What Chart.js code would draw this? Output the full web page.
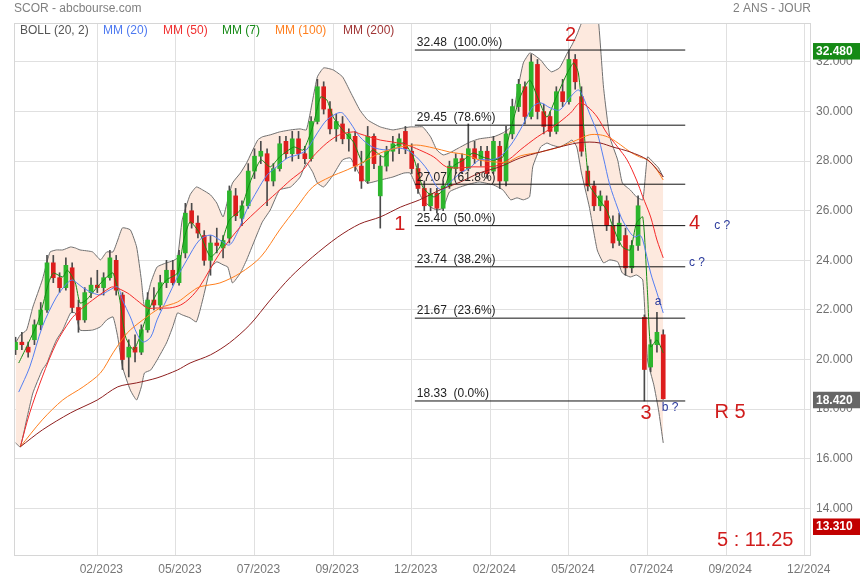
<!DOCTYPE html>
<html lang="fr">
<head>
  <meta charset="UTF-8">
  <title>SCOR - abcbourse.com</title>
  <script src="https://cdn.jsdelivr.net/npm/chart.js@4"></script>
  <style>
    html, body { margin: 0; padding: 0; background: #fff; }
    #cadre { width: 860px; height: 580px; }
  </style>
</head>
<body>
<div id="cadre"><canvas id="graphe" width="860" height="580"></canvas></div>

<script>
  // Bougies (une tous les 4 jours de bourse)
  const ouverture = [20.4,20.7,20.5,20.8,21.4,22.0,23.9,23.3,22.9,23.7, 22.1,21.6,22.7,23.0,22.9,23.3,24.0,22.6,20.1,20.5,
    20.3,21.2,22.4,22.2,23.1,23.6,23.1,24.3,26.0,25.5, 25.0,24.0,24.7,24.5,24.9,26.6,25.7,26.2,27.6,28.2,
    28.3,27.2,27.7,28.8,28.3,28.9,28.3,28.1,29.6,31.0, 30.1,29.3,29.5,28.9,29.0,27.8,27.2,29.0,26.6,27.8,
    28.4,28.6,29.2,28.4,27.7,26.9,26.2,26.7,26.1,27.0, 27.7,28.1,27.7,28.5,28.1,28.4,27.6,28.6,27.2,29.1,
    30.2,31.0,29.8,31.9,30.0,29.8,29.2,30.8,30.4,32.1, 30.6,27.6,27.0,26.2,26.4,25.4,24.8,25.0,23.7,24.6,
    21.7,19.7,20.6,21.0];
  const plusHaut = [20.9,21.1,20.7,21.6,22.3,24.2,24.2,23.5,24.1,23.9, 22.4,22.9,23.3,23.6,23.5,24.4,24.2,22.7,20.8,21.0,
    21.4,22.7,22.9,23.4,24.0,24.0,24.4,26.3,26.3,25.8, 25.2,25.0,25.3,25.0,27.0,26.9,26.4,27.9,28.5,28.8,
    28.5,27.9,29.0,29.0,29.2,29.2,28.6,29.8,31.3,31.2, 30.4,29.9,29.8,29.3,29.2,28.4,29.4,29.1,28.2,28.6,
    29.0,29.1,29.4,28.7,27.9,27.2,26.9,26.9,27.2,28.0, 28.3,28.3,29.5,28.8,28.6,28.6,29.0,28.8,29.4,30.5,
    31.3,31.2,32.3,32.1,30.3,30.0,31.0,31.3,32.48,32.3, 31.0,27.8,27.2,26.8,26.6,25.8,25.9,25.3,24.8,26.6,
    21.8,20.8,21.9,21.2];
  const plusBas = [20.2,20.4,20.1,20.6,21.2,21.9,23.1,22.7,22.8,21.9, 21.1,21.5,22.5,22.7,22.6,23.2,22.6,19.6,19.3,19.9,
    20.2,21.1,22.0,22.0,22.9,23.0,23.0,24.1,25.3,24.9, 23.8,23.4,24.3,24.1,24.7,25.6,25.4,26.1,27.3,27.9,
    26.2,27.0,27.6,28.1,28.0,28.1,27.9,28.0,29.5,29.9, 29.1,28.8,28.7,28.4,27.6,26.9,27.1,27.7,25.3,27.6,
    28.0,28.3,28.3,27.5,26.7,26.0,26.0,25.9,26.0,26.9, 27.5,27.5,27.6,27.9,27.8,27.3,27.5,26.9,27.0,28.9,
    30.0,29.5,29.7,29.7,29.1,29.0,29.1,30.2,30.3,30.9, 28.2,26.8,26.0,26.0,25.2,24.5,24.6,23.4,23.5,24.4,
    18.33,19.5,20.3,18.4];
  const cloture = [20.7,20.6,20.3,21.4,22.0,23.9,23.3,22.9,23.8,22.1, 21.6,22.7,23.0,22.9,23.3,24.1,22.8,20.0,20.5,20.3,
    21.2,22.4,22.2,23.1,23.6,23.1,24.2,25.9,25.5,25.1, 24.0,24.7,24.6,24.8,26.8,25.8,26.2,27.6,28.2,28.4,
    27.2,27.7,28.7,28.3,28.9,28.3,28.1,29.6,31.0,30.1, 29.3,29.6,28.9,29.1,27.8,27.2,29.0,27.9,27.8,28.4,
    28.7,28.9,28.5,27.7,26.9,26.2,26.7,26.1,27.0,27.8, 28.1,27.6,28.5,28.1,28.4,27.5,28.8,27.2,29.1,30.2,
    31.1,29.8,32.0,30.0,29.4,29.2,30.8,30.4,32.1,31.2, 28.4,27.0,26.2,26.6,25.4,24.7,25.5,23.7,24.6,26.2,
    19.6,20.6,21.1,18.42];

  // Bandes de Bollinger (20, 2)
  const jourBoll = [1,4,8,12,18,21,23,27,31,36,39,42,50,55,59,63,66,69,74,78,81,83,87,91,97,101,104,107,112,116,
    120,125,129,133,136,139,144,148,155,158,163,169,176,182,186,190,193,197,203,209,214,220,225,233,241,248,252,256,260,265,
    269,273,277,284,290,296,305,311,316,320,324,328,330,335,339,342,347,352,355,358,361,366,371,375,379,384,387,392,396,400,
    403,407,410,413];
  const bollHaut = [20.67,20.99,21.19,22.12,23.21,23.94,24.34,24.42,24.42,24.54,24.50,24.42,24.34,24.02,24.34,24.34,24.82,25.31,25.23,24.54,
    23.21,22.12,23.09,23.73,23.90,23.98,24.10,25.63,26.64,26.96, 26.84,26.64,26.31,25.75,26.44,27.12,27.52,27.93,28.85,28.98,
    29.06,29.18,29.26,29.30,29.26,30.47,31.40,31.76,31.68,31.40, 30.79,30.06,29.66,29.38,29.26,29.34,29.38,29.38,29.38,28.98,
    28.45,28.25,28.33,28.57,28.77,28.90,28.98,29.14,29.38,30.75, 31.96,32.36,32.32,32.08,31.76,31.60,31.76,32.36,32.69,33.09,
    33.57,34.30,34.10,30.99,28.98,28.05,27.12,26.84,26.56,26.44, 28.17,27.93,27.73,27.36];
  const bollBas = [16.64,16.48,17.57,18.65,19.58,19.86,20.19,20.79,21.19,21.88,21.88,21.19,21.19,21.32,21.60,21.72,20.91,19.70,18.77,18.37,
    18.90,19.46,19.58,19.98,20.67,21.32,21.88,21.80,21.68,21.52, 22.40,23.69,23.94,23.82,23.73,23.09,23.49,24.02,25.11,25.55,
    26.03,26.84,26.96,27.36,27.93,27.56,27.12,26.96,27.44,28.05, 28.13,27.44,27.12,27.24,27.36,27.52,27.52,26.96,26.44,26.15,
    26.03,26.11,26.76,26.96,27.08,27.16,27.04,26.84,26.44,26.52, 26.44,26.56,27.77,28.57,28.73,28.65,28.57,28.73,28.85,28.57,
    27.52,26.15,24.42,23.90,24.02,23.94,23.49,23.33,23.41,23.21, 19.98,18.98,17.97,16.64];

  // Moyennes mobiles
  const jourMM7 = [3,8,15,18,22,25,31,34,39,42,46,53,59,63,67,71,76,80,85,91,97,104,108,112,118,125,131,137,144,150,
    157,163,169,178,184,190,195,199,203,209,216,222,228,235,241,248,254,260,267,273,279,286,292,298,305,311,317,322,328,333,
    339,345,352,356,359,362,366,371,377,381,387,392,396,400,403,405,409,413];
  const mm7 = [19.86,20.51,21.48,22.12,23.09,23.49,23.33,23.61,23.09,22.28,22.40,22.93,23.33,23.49,22.52,20.91,20.39,20.91,21.88,22.69,
    23.21,23.49,24.82,25.55,25.11,24.14,24.54,25.63,26.03,27.12, 28.05,27.77,28.17,28.57,28.45,29.38,30.59,30.47,29.78,29.26,
    28.77,27.93,28.45,28.17,28.57,28.73,28.17,26.96,26.56,26.84, 27.77,28.05,28.33,28.17,28.05,28.17,29.54,30.59,31.27,30.59,
    29.78,30.59,31.56,31.96,31.56,29.66,27.04,26.56,26.03,25.35, 24.54,24.42,25.51,25.75,22.69,20.51,20.79,20.27];

  const jourMM20 = [3,10,18,27,34,37,40,44,50,55,61,66,69,74,78,82,87,91,97,104,110,118,125,131,137,142,148,155,161,167,
    174,180,186,193,199,206,209,214,220,228,237,244,250,256,263,269,273,277,284,290,296,303,309,316,322,330,335,341,347,354,
    359,362,366,371,375,379,384,387,392,395,398,400,405,409,413];
  const mm20 = [18.69,19.70,21.32,22.52,23.09,23.21,23.09,22.89,22.69,22.61,22.81,22.93,22.40,21.72,21.07,20.71,20.91,21.60,22.40,23.33,
    24.02,24.82,25.02,24.82,24.62,25.11,26.03,26.84,27.44,27.77, 28.13,28.25,28.45,29.14,29.66,29.94,29.94,29.54,28.98,28.57,
    28.45,28.53,28.45,28.17,27.65,26.96,26.84,27.12,27.52,27.73, 28.05,28.05,28.17,28.65,29.26,30.19,30.35,30.15,30.06,30.59,
    30.87,30.59,29.94,29.14,28.13,27.04,26.11,25.63,25.11,24.94, 25.02,24.82,23.49,22.69,21.88];

  const jourMM50 = [4,10,18,27,36,42,50,59,63,72,78,85,91,99,106,112,118,131,144,157,167,176,184,190,199,207,216,220,233,241,
    250,258,267,275,284,292,301,309,317,322,333,343,354,360,365,371,377,384,390,396,400,405,409,413];
  const mm50 = [16.48,17.85,19.30,20.67,21.60,22.00,22.40,22.81,22.93,22.69,22.40,22.08,22.08,22.08,22.20,22.48,22.93,24.30,25.35,26.15,
    26.72,27.24,27.65,28.17,28.73,29.06,29.18,29.10,28.85,28.77, 28.65,28.45,28.17,27.77,27.73,27.77,27.77,27.85,28.17,28.45,
    28.98,29.38,29.94,30.35,30.19,29.78,29.14,28.57,28.05,27.24, 26.56,25.75,24.82,24.10];

  const jourMM100 = [4,18,31,44,55,63,72,82,93,104,112,118,131,144,157,169,180,190,201,212,220,233,246,256,267,277,288,296,305,314,
    322,335,347,358,366,373,379,386,392,398,403,408,413];
  const mm100 = [16.48,17.57,18.37,18.90,19.46,20.27,21.07,21.60,22.08,22.32,22.69,22.93,23.09,23.49,24.14,25.23,26.15,26.96,27.36,27.65,
    27.89,28.33,28.57,28.65,28.53,28.37,28.25,28.05,27.97,27.97, 28.21,28.37,28.57,28.85,29.06,29.06,28.94,28.65,28.37,28.17,
    28.05,27.73,27.24];

  const jourMM200 = [4,18,36,53,66,78,91,104,112,125,137,150,163,176,190,206,220,233,246,258,271,284,296,309,322,335,347,358,366,373,
    381,392,403,411,413];
  const mm200 = [16.48,17.16,17.85,18.37,18.90,19.06,19.26,19.58,19.86,20.19,20.67,21.40,22.40,23.33,24.14,24.94,25.47,25.75,26.15,26.44,
    26.84,27.16,27.52,27.77,28.13,28.37,28.57,28.73,28.77,28.73, 28.57,28.37,28.05,27.52,27.36];

  // Retracements de Fibonacci
  const niveauxFibo = [32.48, 29.45, 27.07, 25.40, 23.74, 21.67, 18.33];
  const pourcentFibo = ['100.0%', '78.6%', '61.8%', '50.0%', '38.2%', '23.6%', '0.0%'];
  const debutFibo = 255, finFibo = 427;

  // Annotations (vagues)
  const texteVague = ['1', '2', '3', '4', 'R 5', '5 : 11.25'];
  const jourVague = [245.5, 354, 402, 433, 455.5, 471.5];
  const prixVague = [25.43, 33.05, 17.81, 25.47, 17.85, 12.69];
  const texteNote = ['c ?', 'c ?', 'a', 'b ?'];
  const jourNote = [450.5, 434.5, 409.7, 417.3];
  const prixNote = [25.39, 23.90, 22.32, 18.05];

  // Axes
  const etiquettesMois = ['02/2023','05/2023','07/2023','09/2023','12/2023','02/2024','05/2024','07/2024','09/2024','12/2024'];
  const jourRepere = [53, 103, 153, 203, 253, 303, 353, 403, 453, 503];
  const niveauxPrix = [14, 16, 18, 20, 22, 24, 26, 28, 30, 32];

  // Étiquettes de prix à droite
  const prixEtiquette = [32.48, 18.42, 13.31];
  const couleurEtiquette = ['#168a16', '#666666', '#c20000'];

  const POLICE = "Arial, 'Liberation Sans', sans-serif";
  const VERT = '#2cb52c', ROUGE = '#dd1d1d';

  const jourBougie = ouverture.map((_, i) => 1 + 4 * i);
  const hausse = cloture.map((c, i) => c >= ouverture[i]);

  const points = (jours, valeurs) => jours.map((j, i) => ({ x: j, y: valeurs[i] }));
  const ligne = (jours, valeurs, couleur, extra) => Object.assign({
    type: 'line', data: points(jours, valeurs), borderColor: couleur, borderWidth: 1,
    pointRadius: 0, tension: 0.3, fill: false, order: 0
  }, extra || {});

  const jeux = [
    // bandes de Bollinger + remplissage
    ligne(jourBoll, bollHaut, '#6f6f6f', { fill: '+1', backgroundColor: '#fde9de', tension: 0.15, order: 3 }),
    ligne(jourBoll, bollBas, '#6f6f6f', { tension: 0.15, order: 3 }),
    // mèches
    {
      type: 'bar', data: jourBougie.map((j, i) => ({ x: j, y: [plusBas[i], plusHaut[i]] })),
      backgroundColor: '#4a4a4a', barThickness: 1, grouped: false, order: 2
    },
    // corps
    {
      type: 'bar', data: jourBougie.map((j, i) => ({ x: j, y: [ouverture[i], cloture[i]] })),
      backgroundColor: hausse.map(h => h ? VERT : ROUGE), barThickness: 4, minBarLength: 1,
      grouped: false, order: 1
    },
    ligne(jourMM200, mm200, '#8e1f1f'),
    ligne(jourMM100, mm100, '#ff7f1e'),
    ligne(jourMM50, mm50, '#f52a2a'),
    ligne(jourMM20, mm20, '#557ff2'),
    ligne(jourMM7, mm7, '#148a14', { tension: 0.2 }),
    ...niveauxFibo.map(p => ligne([debutFibo, finFibo], [p, p], '#111', { tension: 0 }))
  ];

  const habillage = {
    id: 'habillage',
    afterDatasetsDraw(chart) {
      const { ctx, scales: { x, y } } = chart;
      ctx.save();
      // libellés Fibonacci
      ctx.font = '12px ' + POLICE;
      ctx.fillStyle = '#222';
      ctx.textAlign = 'left';
      ctx.textBaseline = 'bottom';
      niveauxFibo.forEach((p, i) => {
        ctx.fillText(p.toFixed(2) + '  (' + pourcentFibo[i] + ')', x.getPixelForValue(debutFibo) + 2, y.getPixelForValue(p) - 1);
      });
      // vagues
      ctx.textAlign = 'center';
      ctx.textBaseline = 'middle';
      ctx.font = '20px ' + POLICE;
      ctx.fillStyle = '#d01c1c';
      texteVague.forEach((t, i) => ctx.fillText(t, x.getPixelForValue(jourVague[i]), y.getPixelForValue(prixVague[i])));
      ctx.font = '12px ' + POLICE;
      ctx.fillStyle = '#2b3a9c';
      texteNote.forEach((t, i) => ctx.fillText(t, x.getPixelForValue(jourNote[i]), y.getPixelForValue(prixNote[i])));
      ctx.restore();
    },
    afterDraw(chart) {
      const { ctx, chartArea: a, scales: { y } } = chart;
      ctx.save();
      // cadre
      ctx.strokeStyle = '#d6d6d6';
      ctx.lineWidth = 1;
      ctx.strokeRect(a.left + 0.5, a.top + 0.5, a.right - a.left - 1, a.bottom - a.top);
      // titres
      ctx.font = '12px ' + POLICE;
      ctx.textBaseline = 'middle';
      ctx.fillStyle = '#808080';
      ctx.textAlign = 'left';
      ctx.fillText('SCOR - abcbourse.com', 14, 9);
      ctx.textAlign = 'right';
      ctx.fillText('2 ANS - JOUR', a.right, 9);
      // légende
      ctx.textAlign = 'left';
      [['BOLL (20, 2)', '#555', 20], ['MM (20)', '#4d79f0', 103], ['MM (50)', '#f03030', 163],
       ['MM (7)', '#178a17', 222], ['MM (100)', '#ff7f1e', 275], ['MM (200)', '#a03535', 343]]
        .forEach(([t, c, px]) => { ctx.fillStyle = c; ctx.fillText(t, px, 31); });
      // étiquettes de prix
      ctx.font = 'bold 12px ' + POLICE;
      prixEtiquette.forEach((p, i) => {
        const py = y.getPixelForValue(p);
        ctx.fillStyle = couleurEtiquette[i];
        ctx.fillRect(813, py - 7, 47, 16.5);
        ctx.fillStyle = '#fff';
        ctx.fillText(p.toFixed(3), 816, py + 1.5);
      });
      ctx.restore();
    }
  };

  new Chart(document.getElementById('graphe'), {
    type: 'bar',
    data: { datasets: jeux },
    options: {
      responsive: false,
      animation: false,
      layout: { padding: { left: 14, top: 23, right: 0, bottom: 0 } },
      plugins: {
        legend: { display: false },
        tooltip: { enabled: false },
        filler: { drawTime: 'beforeDatasetsDraw' }
      },
      scales: {
        x: {
          type: 'linear', min: 0, max: 507, offset: false,
          afterFit: s => { s.height = 25; },
          afterBuildTicks: s => { s.ticks = jourRepere.map(v => ({ value: v })); },
          ticks: {
            callback: (v, i) => etiquettesMois[i],
            color: '#777', font: { size: 12, family: POLICE },
            padding: 7, maxRotation: 0, autoSkip: false, labelOffset: 4
          },
          grid: { color: '#e0e0e0', drawTicks: false, offset: false },
          border: { display: false }
        },
        y: {
          position: 'right', min: 12.12, max: 33.57,
          afterFit: s => { s.width = 49; },
          afterBuildTicks: s => { s.ticks = niveauxPrix.map(v => ({ value: v })); },
          ticks: {
            callback: v => v.toFixed(3),
            color: '#707070', font: { size: 12, family: POLICE }, padding: 5
          },
          grid: { color: '#e0e0e0', drawTicks: false },
          border: { display: false }
        }
      }
    },
    plugins: [habillage]
  });
</script>
</body>
</html>
